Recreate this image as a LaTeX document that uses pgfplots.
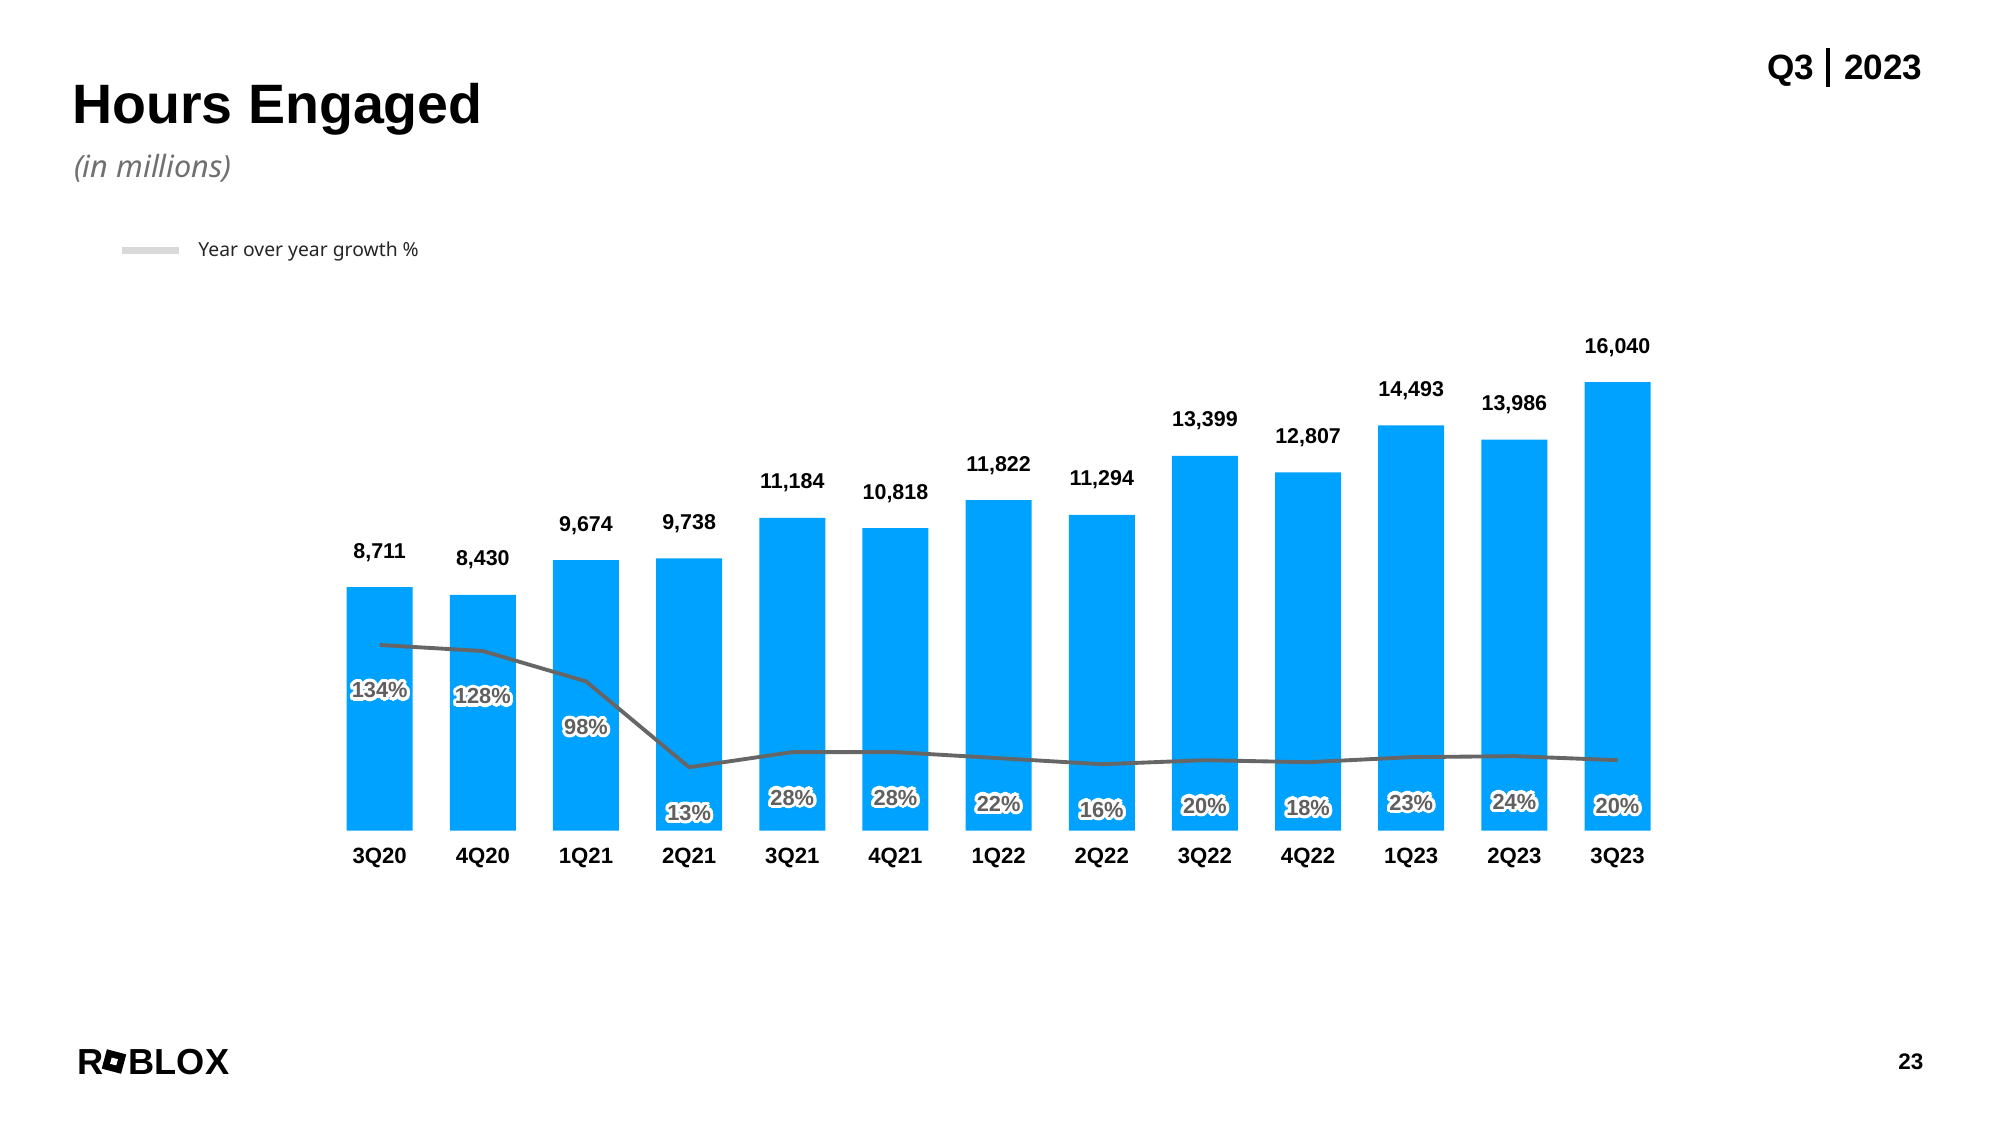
\documentclass[border=0pt]{standalone}
\usepackage{pgfplots}
\pgfplotsset{compat=1.18}
\usepackage{fontspec}
\setmainfont{Liberation Sans}
\newfontfamily\inter{Noto Sans}
\usepackage[copies]{contour}
\contourlength{0.9pt}
\definecolor{rblue}{HTML}{00A2FF}
\definecolor{lgray}{HTML}{666666}
\definecolor{pctgray}{HTML}{606060}
\definecolor{leggray}{HTML}{D9D9D9}
\definecolor{subgray}{HTML}{707070}
\begin{document}
\begin{tikzpicture}[x=1cm,y=1cm]
\path[use as bounding box, fill=white] (0,0) rectangle (20,11.25);
% titles
\node[anchor=base west, inner sep=0pt, font=\bfseries\fontsize{15.8}{19}\selectfont] at (0.717,10.017) {Hours Engaged};
\node[anchor=base west, inner sep=0pt, font=\inter\itshape\fontsize{8.7}{10.5}\selectfont, text=subgray] at (0.733,9.47) {(in millions)};
% legend
\draw[leggray, line width=0.07cm] (1.224,8.74) -- (1.786,8.74);
\node[anchor=base west, inner sep=0pt, font=\inter\fontsize{5.5}{6.5}\selectfont, text=black!85] at (1.977,8.683) {Year over year growth \%};
% header right
\node[anchor=base east, inner sep=0pt, font=\bfseries\fontsize{10}{12}\selectfont] at (19.23,10.45) {Q3\hspace{0.12cm}\rule[-0.067cm]{0.04cm}{0.387cm}\hspace{0.14cm}2023};
% page number
\node[anchor=base east, inner sep=0pt, font=\bfseries\fontsize{6.4}{8}\selectfont] at (19.24,0.56) {23};
% logo
\node[anchor=base west, inner sep=0pt, font=\bfseries\fontsize{10.3}{12}\selectfont] at (0.765,0.51) {R};
\begin{scope}[shift={(1.14,0.635)}, rotate=-15]
\fill[black] (-0.1,-0.1) rectangle (0.1,0.1);
\fill[white] (-0.032,-0.032) rectangle (0.032,0.032);
\end{scope}
\node[anchor=base west, inner sep=0pt, font=\bfseries\fontsize{10.3}{12}\selectfont] at (1.28,0.51) {BLOX};
% bars
\begin{axis}[
  at={(3.281cm,2.943cm)}, anchor=south west,
  width=13.41cm, height=4.755cm, scale only axis,
  xmin=-0.5, xmax=12.5, ymin=0, ymax=17000,
  axis line style={draw=none}, tick style={draw=none},
  ytick=\empty, xtick={0,...,12},
  xticklabels={3Q20,4Q20,1Q21,2Q21,3Q21,4Q21,1Q22,2Q22,3Q22,4Q22,1Q23,2Q23,3Q23},
  xticklabel style={font=\bfseries\fontsize{6.3}{7.5}\selectfont, anchor=base, yshift=-0.176cm},
  ybar, bar width=0.66cm,
  /pgf/number format/assume math mode=true,
  nodes near coords,
  every node near coord/.append style={font=\bfseries\fontsize{6.1}{7.5}\selectfont, anchor=base, yshift=0.29cm, inner sep=0pt},
  clip=false, enlargelimits=false,
]
\addplot[fill=rblue, draw=none] coordinates {(0,8711) (1,8430) (2,9674) (3,9738) (4,11184) (5,10818) (6,11822) (7,11294) (8,13399) (9,12807) (10,14493) (11,13986) (12,16040)};
\end{axis}
% growth line
\begin{axis}[
  at={(3.281cm,2.943cm)}, anchor=south west,
  width=13.41cm, height=4.755cm, scale only axis,
  xmin=-0.5, xmax=12.5, ymin=-49.77, ymax=420.7,
  hide axis, clip=false,
  /pgf/number format/assume math mode=true,
]
\addplot[color=lgray, line width=1.1pt, mark=none,
  nodes near coords={\contour{white}{\pgfmathprintnumber{\pgfplotspointmeta}\%}},
  every node near coord/.append style={anchor=center, yshift=-0.47cm, font=\bfseries\fontsize{6.2}{7.5}\selectfont, text=pctgray, inner sep=0pt}]
  coordinates {(0,134) (1,128) (2,98) (3,13) (4,28) (5,28) (6,22) (7,16) (8,20) (9,18) (10,23) (11,24) (12,20)};
\end{axis}
\end{tikzpicture}
\end{document}
